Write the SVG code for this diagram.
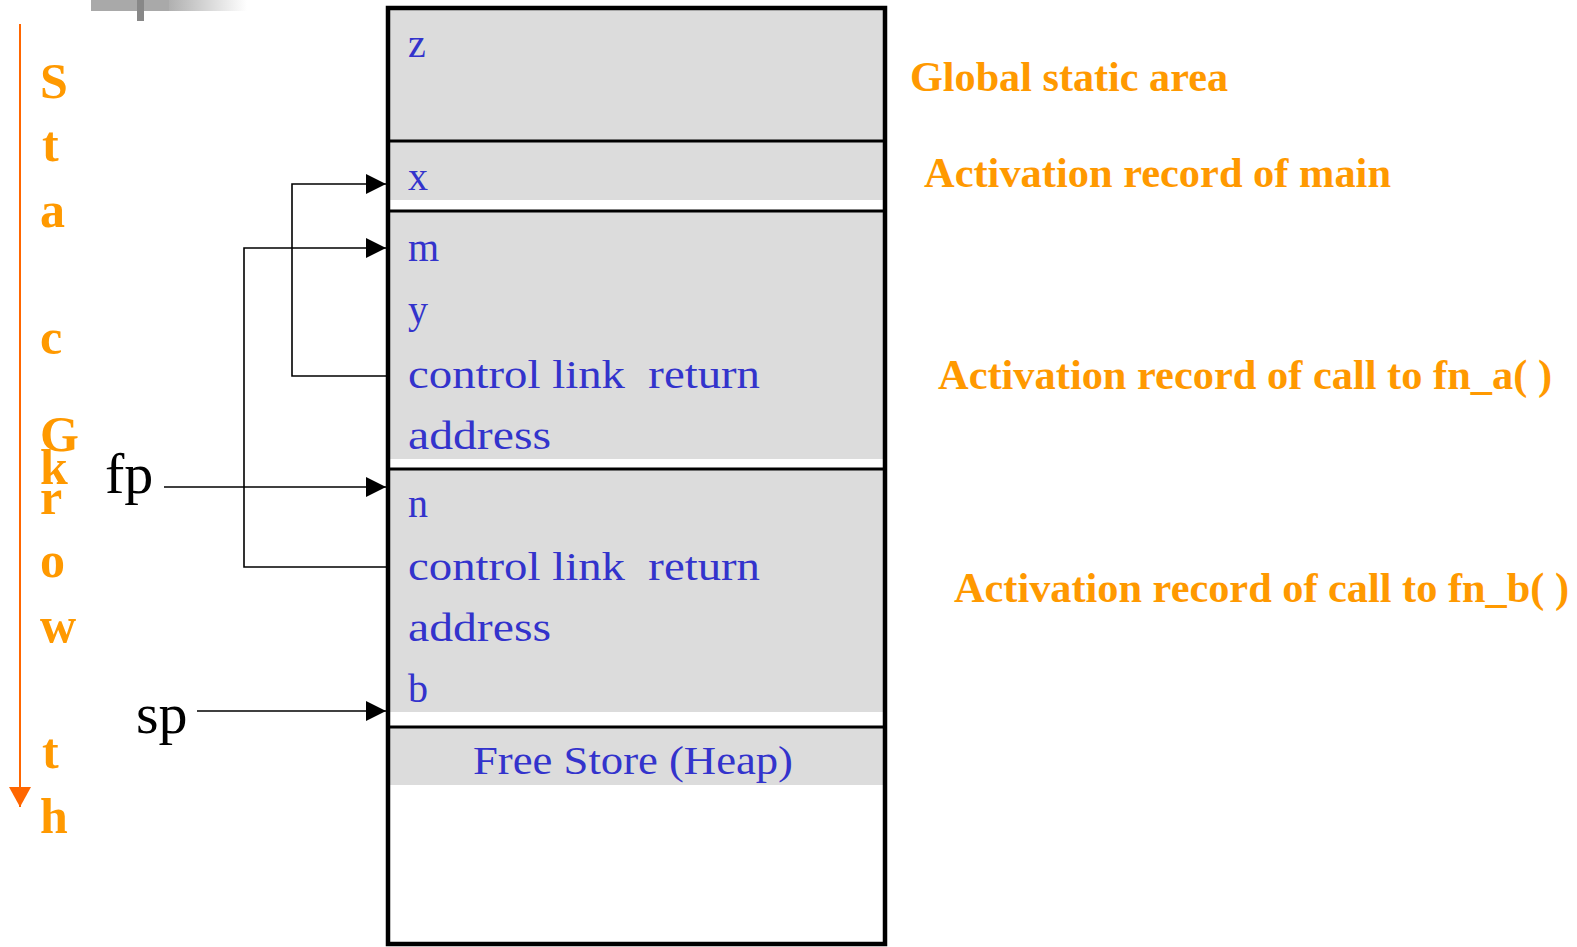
<svg xmlns="http://www.w3.org/2000/svg" width="1577" height="947" viewBox="0 0 1577 947">
<defs>
<linearGradient id="fade" x1="0" y1="0" x2="1" y2="0">
<stop offset="0" stop-color="#b0b0b0"/>
<stop offset="1" stop-color="#ffffff"/>
</linearGradient>
<marker id="ah" viewBox="0 0 20 20" refX="20" refY="10" markerWidth="20" markerHeight="20" markerUnits="userSpaceOnUse" orient="auto">
<path d="M0,0 L20,10 L0,20 Z" fill="#000"/>
</marker>
<marker id="oh" viewBox="0 0 22 20" refX="11" refY="20" markerWidth="22" markerHeight="20" markerUnits="userSpaceOnUse" orient="0">
<path d="M0,0 L22,0 L11,20 Z" fill="#ff6600"/>
</marker>
</defs>
<style>
.cell{fill:#dcdcdc}
.div{stroke:#000;stroke-width:3}
.blue{font-family:"Liberation Serif",serif;font-size:40px;fill:#3333cc}
.org{font-family:"Liberation Serif",serif;font-weight:bold;font-size:42px;fill:#ff9900}
.vert{font-family:"Liberation Serif",serif;font-weight:bold;font-size:50px;fill:#ff9900}
.ptr{font-family:"Liberation Serif",serif;font-size:58px;fill:#000}
.con{fill:none;stroke:#000;stroke-width:1.6}
</style>
<rect width="1577" height="947" fill="#fff"/>
<g id="deco">
<rect x="91" y="0" width="78" height="11" fill="#a9a9a9"/>
<rect x="169" y="0" width="78" height="11" fill="url(#fade)"/>
<rect x="137" y="0" width="7" height="21" fill="#888"/>
</g>
<g id="stack-growth">
<line x1="20" y1="24" x2="20" y2="807" stroke="#ff6600" stroke-width="2" marker-end="url(#oh)"/>
<text class="vert" x="40" y="98">S</text>
<text class="vert" x="42" y="161">t</text>
<text class="vert" x="40" y="227">a</text>
<text class="vert" x="40" y="354">c</text>
<text class="vert" x="40" y="451">G</text>
<text class="vert" x="40" y="484">k</text>
<text class="vert" x="40" y="514">r</text>
<text class="vert" x="40" y="577">o</text>
<text class="vert" x="40" y="642">w</text>
<text class="vert" x="42" y="768">t</text>
<text class="vert" x="40" y="833">h</text>
</g>
<g id="memory">
<rect class="cell" x="388" y="8" width="497" height="133"/>
<rect class="cell" x="388" y="141" width="497" height="59"/>
<rect class="cell" x="388" y="211" width="497" height="248"/>
<rect class="cell" x="388" y="469" width="497" height="243"/>
<rect class="cell" x="388" y="727" width="497" height="58"/>
<line class="div" x1="388" y1="141" x2="885" y2="141"/>
<line class="div" x1="388" y1="211" x2="885" y2="211"/>
<line class="div" x1="388" y1="469" x2="885" y2="469"/>
<line class="div" x1="388" y1="727" x2="885" y2="727"/>
<rect x="388" y="8" width="497" height="936" fill="none" stroke="#000" stroke-width="4.5"/>
</g>
<g id="global-area">
<text class="blue" x="408" y="57">z</text>
<text class="org" x="910" y="91" textLength="318" lengthAdjust="spacingAndGlyphs">Global static area</text>
</g>
<g id="ar-main">
<text class="blue" x="408" y="190">x</text>
<text class="org" x="924" y="187" textLength="467" lengthAdjust="spacingAndGlyphs">Activation record of main</text>
</g>
<g id="ar-fn-a">
<text class="blue" x="408" y="261">m</text>
<text class="blue" x="408" y="323">y</text>
<text class="blue" x="408" y="388" textLength="352" lengthAdjust="spacingAndGlyphs">control link&#160; return</text>
<text class="blue" x="408" y="449" textLength="143" lengthAdjust="spacingAndGlyphs">address</text>
<text class="org" x="938" y="389" textLength="614" lengthAdjust="spacingAndGlyphs">Activation record of call to fn_a( )</text>
</g>
<g id="ar-fn-b">
<text class="blue" x="408" y="517">n</text>
<text class="blue" x="408" y="580" textLength="352" lengthAdjust="spacingAndGlyphs">control link&#160; return</text>
<text class="blue" x="408" y="641" textLength="143" lengthAdjust="spacingAndGlyphs">address</text>
<text class="blue" x="408" y="702">b</text>
<text class="org" x="954" y="602" textLength="615" lengthAdjust="spacingAndGlyphs">Activation record of call to fn_b( )</text>
</g>
<g id="heap">
<text class="blue" x="473" y="774" textLength="320" lengthAdjust="spacingAndGlyphs">Free Store (Heap)</text>
</g>
<g id="fp">
<text class="ptr" x="105" y="493">fp</text>
</g>
<g id="sp">
<text class="ptr" x="136" y="733">sp</text>
</g>
<g id="connectors">
<polyline class="con" points="386,376 292,376 292,184 386,184" marker-end="url(#ah)"/>
<polyline class="con" points="386,567 244,567 244,248 386,248" marker-end="url(#ah)"/>
<line class="con" x1="164" y1="487" x2="386" y2="487" marker-end="url(#ah)"/>
<line class="con" x1="197" y1="711" x2="386" y2="711" marker-end="url(#ah)"/>
</g>
</svg>
